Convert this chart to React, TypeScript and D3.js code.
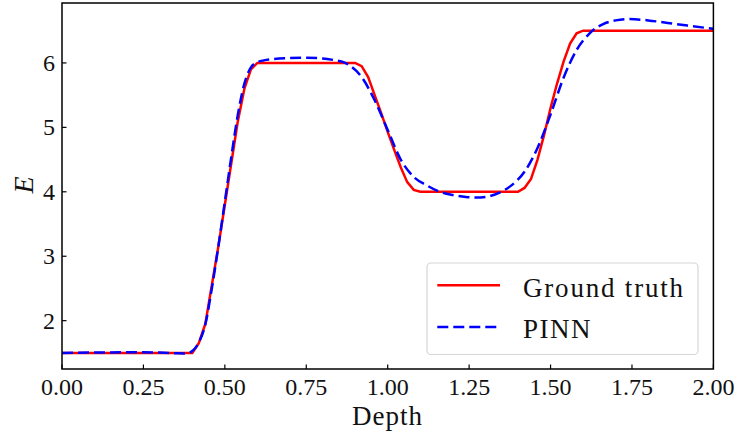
import React from 'react'
import * as d3 from 'd3'

// ground truth profile (depth, E)
const depthTruth = [0, 0.40, 0.42, 0.44, 0.46, 0.48, 0.50, 0.52, 0.54, 0.56, 0.58, 0.60,
    0.90, 0.92, 0.94, 0.96, 0.98, 1.00, 1.02, 1.04, 1.06, 1.08, 1.10,
    1.40, 1.42, 1.44, 1.46, 1.48, 1.50, 1.52, 1.54, 1.56, 1.58, 1.60, 2.00]
const eTruth = [1.5, 1.5, 1.65, 1.95, 2.55, 3.15, 3.8, 4.45, 5.1, 5.6, 5.9, 6.0,
    6.0, 5.95, 5.78, 5.5, 5.22, 4.93, 4.65, 4.38, 4.15, 4.03, 4.0,
    4.0, 4.06, 4.2, 4.5, 4.88, 5.3, 5.68, 6.02, 6.3, 6.46, 6.5, 6.5]

// PINN prediction
const depthPinn = [0, 0.10, 0.20, 0.25, 0.30, 0.35, 0.38, 0.40, 0.42, 0.44, 0.46, 0.48, 0.50,
    0.52, 0.54, 0.56, 0.58, 0.60, 0.62, 0.65, 0.70, 0.75, 0.80, 0.84, 0.86, 0.88, 0.92, 0.96,
    1.00, 1.04, 1.08, 1.12, 1.16, 1.20, 1.24, 1.27, 1.30, 1.34, 1.38, 1.42, 1.46, 1.50, 1.54,
    1.58, 1.62, 1.66, 1.70, 1.74, 1.80, 1.86, 1.92, 2.00]
const ePinn = [1.50, 1.505, 1.51, 1.51, 1.505, 1.495, 1.49, 1.53, 1.66, 1.94, 2.5, 3.15, 3.85,
    4.55, 5.2, 5.68, 5.93, 6.01, 6.04, 6.06, 6.075, 6.08, 6.07, 6.04, 6.02, 5.97, 5.78, 5.42,
    4.96, 4.5, 4.23, 4.1, 4.0, 3.95, 3.92, 3.91, 3.92, 3.98, 4.1, 4.31, 4.68, 5.2, 5.77,
    6.2, 6.46, 6.6, 6.66, 6.68, 6.66, 6.62, 6.58, 6.53]

const xTicks = [0, 0.25, 0.5, 0.75, 1.0, 1.25, 1.5, 1.75, 2.0]
const yTicks = [2, 3, 4, 5, 6]
const legendLabels = ['Ground truth', 'PINN']

const W = 737
const H = 432
const left = 62, right = 713.4, top = 3, bottom = 369
const font = '"Liberation Serif", "DejaVu Serif", serif'

export default function App() {
    const x = d3.scaleLinear().domain([0, 2]).range([left, right])
    const y = d3.scaleLinear().domain([1.25, 6.93]).range([bottom, top])

    const truthLine = d3.line<number>()
        .x((d, i) => x(depthTruth[i]))
        .y(d => y(d))
        .curve(d3.curveLinear)
    const pinnLine = d3.line<number>()
        .x((d, i) => x(depthPinn[i]))
        .y(d => y(d))
        .curve(d3.curveMonotoneX)

    const fmt = d3.format('.2f')

    return (
        <svg width={W} height={H} style={{ position: 'absolute', left: 0, top: 0 }} fontFamily={font}>
            <rect width={W} height={H} fill="white" />
            <defs>
                <clipPath id="plot">
                    <rect x={left} y={top} width={right - left} height={bottom - top} />
                </clipPath>
            </defs>
            <g clipPath="url(#plot)">
                <path d={truthLine(eTruth) || ''} fill="none" stroke="#ff0000" strokeWidth={2.5} />
                <path d={pinnLine(ePinn) || ''} fill="none" stroke="#0000ff" strokeWidth={2.5} strokeDasharray="11 5" />
            </g>

            {/* x axis ticks */}
            {xTicks.map(t => (
                <g key={'x' + t}>
                    <line x1={x(t)} x2={x(t)} y1={bottom} y2={bottom - 4.5} stroke="#000" strokeWidth={1.2} />
                    <text x={x(t)} y={394.5} textAnchor="middle" fontSize={24} fill="#111">{fmt(t)}</text>
                </g>
            ))}
            {/* y axis ticks */}
            {yTicks.map(t => (
                <g key={'y' + t}>
                    <line x1={left} x2={left + 4.5} y1={y(t)} y2={y(t)} stroke="#000" strokeWidth={1.2} />
                    <text x={55} y={y(t)} dy="0.33em" textAnchor="end" fontSize={24} fill="#111">{t}</text>
                </g>
            ))}

            <rect x={left} y={top} width={right - left} height={bottom - top} fill="none" stroke="#000" strokeWidth={1.5} />

            <text x={387.5} y={425} textAnchor="middle" fontSize={27} letterSpacing={1} fill="#111">Depth</text>
            <text transform="translate(33,185) rotate(-90)" textAnchor="middle" fontSize={28} fontStyle="italic" fill="#111">E</text>

            {/* legend */}
            <rect x={427} y={263} width={271} height={91.5} rx={4} fill="white" fillOpacity={0.8} stroke="#d6d6d6" strokeWidth={1.2} />
            <line x1={437.3} x2={500} y1={285.3} y2={285.3} stroke="#ff0000" strokeWidth={2.5} />
            <line x1={437.3} x2={500} y1={327} y2={327} stroke="#0000ff" strokeWidth={2.5} strokeDasharray="11 5" />
            <text x={523} y={296.5} fontSize={27} letterSpacing={1.8} fill="#111">{legendLabels[0]}</text>
            <text x={523} y={337.5} fontSize={27} letterSpacing={1.5} fill="#111">{legendLabels[1]}</text>
        </svg>
    )
}
